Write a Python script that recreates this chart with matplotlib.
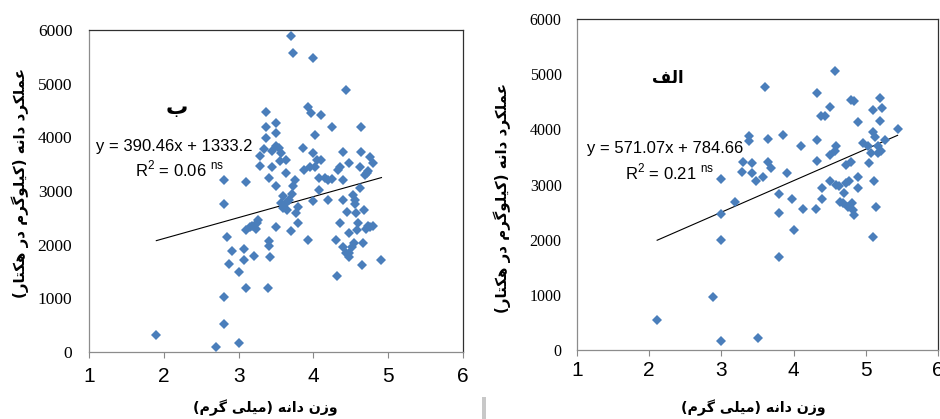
import numpy as np
import matplotlib
matplotlib.use('Agg')
import matplotlib.pyplot as plt
from matplotlib.patches import Rectangle

# ---- panel "ب" (left) : grain weight vs grain yield ----
x_b = [1.90, 2.70, 2.81, 2.81, 2.81, 2.81, 2.84, 2.87, 2.91, 3.00, 3.00, 3.07, 3.07,
       3.10, 3.10, 3.10, 3.20, 3.18, 3.24, 3.26, 3.29, 3.29, 3.37, 3.37, 3.37, 3.40,
       3.40, 3.40, 3.42, 3.39, 3.50, 3.50, 3.50, 3.50, 3.50, 3.54, 3.57, 3.60, 3.63,
       3.63, 3.64, 3.70, 3.73, 3.70, 3.73, 3.75, 3.77, 3.79, 3.86, 3.88, 3.93, 3.97,
       3.93, 3.99, 4.02, 3.99, 3.99, 4.02, 4.10, 4.10, 4.08, 4.19, 4.25, 4.25, 4.30,
       4.31, 4.35, 4.40, 4.44, 4.40, 4.40, 4.44, 4.48, 4.48, 4.54, 4.55, 4.62, 4.64,
       4.64, 4.65, 4.68, 4.71, 4.73, 4.75, 4.80, 4.91, 4.80, 4.66, 4.48, 4.53, 4.57,
       4.62, 4.35, 4.33, 3.57, 3.60, 3.65, 3.68, 4.39, 4.48, 4.52, 4.58, 4.05, 3.96,
       4.07, 3.34, 3.45, 3.55, 3.72, 3.80, 4.15, 4.20, 4.45, 4.56, 4.70, 4.75, 4.60,
       4.69, 4.73, 3.23, 3.15, 3.45]
y_b = [310, 100, 530, 1025, 2760, 3210, 2135, 1640, 1890, 170, 1490, 1910, 1710,
       3160, 1190, 2280, 1790, 2340, 2400, 2460, 3475, 3655, 4470, 4200, 3985, 3250,
       2065, 1980, 1775, 1190, 4260, 4075, 3830, 3085, 2320, 3800, 3705, 2900, 2775,
       3580, 3330, 5890, 5565, 2250, 3085, 3210, 2590, 2400, 3800, 3395, 4560, 4450,
       2080, 5485, 4045, 2805, 3705, 3455, 4420, 3580, 3025, 2835, 3220, 4200, 2090,
       1420, 2400, 3735, 4885, 3210, 2835, 1845, 3520, 2215, 2030, 2835, 3455, 4200,
       3735, 1625, 2650, 3330, 2340, 3640, 3520, 1720, 2340, 2030, 1845, 2930, 2590,
       3055, 3455, 3395, 2780, 2690, 2650, 2835, 1950, 1770, 1950, 2270, 3580, 3455,
       3250, 3780, 3740, 3560, 2950, 2700, 3250, 3200, 2600, 2750, 2300, 2330, 2400,
       3300, 3380, 2300, 2320, 3450]
slope_b, icpt_b, r2_b = 390.46, 1333.2, 0.06

# ---- panel "الف" (right) ----
x_a = [2.11, 2.89, 3.00, 3.00, 3.00, 3.00, 3.50, 3.19, 3.30, 3.28, 3.38, 3.38, 3.43,
       3.43, 3.48, 3.57, 3.60, 3.65, 3.65, 3.69, 3.80, 3.80, 3.80, 3.86, 3.91, 3.98,
       4.00, 4.10, 4.13, 4.31, 4.32, 4.32, 4.33, 4.38, 4.43, 4.50, 4.39, 4.39, 4.50,
       4.50, 4.57, 4.57, 4.59, 4.59, 4.63, 4.64, 4.68, 4.70, 4.72, 4.73, 4.75, 4.77,
       4.79, 4.80, 4.81, 4.82, 4.84, 4.84, 4.89, 4.89, 4.89, 4.96, 5.04, 5.07, 5.10,
       5.10, 5.11, 5.10, 5.14, 5.17, 5.19, 5.20, 5.21, 5.23, 5.26, 5.44, 5.13, 5.03,
       5.17]
y_a = [545, 955, 157, 1995, 2460, 3100, 210, 2675, 3415, 3235, 3780, 3885, 3205,
       3385, 3055, 3145, 4765, 3820, 3415, 3295, 2825, 2480, 1680, 3890, 3205, 2735,
       2180, 3690, 2550, 2550, 3800, 4655, 3425, 4245, 4235, 4405, 2935, 2735, 3055,
       3540, 5060, 3600, 3700, 2995, 2965, 2690, 2660, 2840, 3035, 3355, 2600, 3055,
       3400, 4525, 2660, 2530, 4505, 2450, 3145, 2935, 4125, 3760, 3385, 3570, 3960,
       4355, 3055, 2055, 2600, 3570, 4145, 4565, 3600, 4385, 3810, 4005, 3870, 3690,
       3690]
slope_a, icpt_a, r2_a = 571.07, 784.66, 0.21

ylabel_fa = 'عملکرد دانه (کیلوگرم در هکتار)'
xlabel_fa = 'وزن دانه (میلی گرم)'

# arabic presentation forms: isolated, final, initial, medial
forms = {
    'ا': ('\uFE8D', '\uFE8E', None, None),
    'ب': ('\uFE8F', '\uFE90', '\uFE91', '\uFE92'),
    'ت': ('\uFE95', '\uFE96', '\uFE97', '\uFE98'),
    'د': ('\uFEA9', '\uFEAA', None, None),
    'ر': ('\uFEAD', '\uFEAE', None, None),
    'ز': ('\uFEAF', '\uFEB0', None, None),
    'ع': ('\uFEC9', '\uFECA', '\uFECB', '\uFECC'),
    'ف': ('\uFED1', '\uFED2', '\uFED3', '\uFED4'),
    'ل': ('\uFEDD', '\uFEDE', '\uFEDF', '\uFEE0'),
    'م': ('\uFEE1', '\uFEE2', '\uFEE3', '\uFEE4'),
    'ن': ('\uFEE5', '\uFEE6', '\uFEE7', '\uFEE8'),
    'ه': ('\uFEE9', '\uFEEA', '\uFEEB', '\uFEEC'),
    'و': ('\uFEED', '\uFEEE', None, None),
    'ک': ('\uFB8E', '\uFB8F', '\uFB90', '\uFB91'),
    'گ': ('\uFB92', '\uFB93', '\uFB94', '\uFB95'),
    'ی': ('\uFBFC', '\uFBFD', '\uFBFE', '\uFBFF'),
}

def fa(s):
    out = []
    for i, c in enumerate(s):
        if c not in forms:
            out.append(c)
            continue
        iso, fin, ini, med = forms[c]
        prev = s[i-1] if i > 0 else ''
        nxt = s[i+1] if i < len(s)-1 else ''
        jp = prev in forms and forms[prev][2] is not None
        jn = ini is not None and nxt in forms
        if jp and jn:
            out.append(med)
        elif jp:
            out.append(fin)
        elif jn:
            out.append(ini)
        else:
            out.append(iso)
    return ''.join(reversed(out)).translate(str.maketrans('()', ')('))

plt.rcParams['mathtext.fontset'] = 'custom'
plt.rcParams['mathtext.rm'] = 'Liberation Sans'

blue = '#4a7ebb'
fig = plt.figure(figsize=(9.4, 4.19), dpi=100)
W, H = 940, 419

def make_ax(l, r, t, b):
    return fig.add_axes([l/W, 1-b/H, (r-l)/W, (b-t)/H])

def panel(ax, x, y, slope, icpt, r2, xfs, yfs, xpad, ypad):
    ax.plot(x, y, 'D', ms=5.3, mew=0, color=blue, zorder=3)
    xx = np.array([min(x), max(x)])
    ax.plot(xx, slope*xx+icpt, color='black', lw=0.8, zorder=2)
    ax.set_xlim(1, 6)
    ax.set_ylim(0, 6000)
    ax.set_xticks([1, 2, 3, 4, 5, 6])
    ax.set_yticks(range(0, 6001, 1000))
    ax.tick_params(axis='x', length=4, color='#888888', pad=xpad, labelsize=xfs)
    ax.tick_params(axis='y', length=0, pad=ypad, labelsize=yfs)
    for lab in ax.get_xticklabels():
        lab.set_family('Liberation Sans')
    for lab in ax.get_yticklabels():
        lab.set_family('Liberation Serif')
    for side in ['left', 'bottom']:
        ax.spines[side].set_color('#8c8c8c')
    for side in ['top', 'right']:
        ax.spines[side].set_color('#303030')
    for sp in ax.spines.values():
        sp.set_linewidth(0.9)

ax1 = make_ax(89, 463, 30, 352)
panel(ax1, x_b, y_b, slope_b, icpt_b, r2_b, 15, 12.5, 7, 12)
ax2 = make_ax(577, 938, 19, 350)
panel(ax2, x_a, y_a, slope_a, icpt_a, r2_a, 15, 11.5, 4, 11)

def eq_text(x0, y0, x1, y1, slope, icpt, r2):
    fig.text(x0/W, 1-y0/H, 'y = %.2fx + %s' % (slope, ('%.2f' % icpt).rstrip('0').rstrip('.')),
             family='Liberation Sans', fontsize=12, va='center', ha='left')
    fig.text(x1/W, 1-y1/H, 'R$^2$ = %.2f $^{\\mathrm{ns}}$' % r2,
             family='Liberation Sans', fontsize=12, va='center', ha='left')

eq_text(96, 146, 135, 169, slope_b, icpt_b, r2_b)
eq_text(587, 149, 625, 172, slope_a, icpt_a, r2_a)

lab = dict(family='DejaVu Sans', fontweight='bold', ha='center', va='center')
fig.text(177/W, 1-108/H, fa('ب'), fontsize=16, **lab)
fig.text(668/W, 1-78/H, fa('الف'), fontsize=12, **lab)
fig.text(20/W, 1-183/H, fa(ylabel_fa), rotation=90, fontsize=10.8, **lab)
fig.text(502/W, 1-198/H, fa(ylabel_fa), rotation=90, fontsize=10.8, **lab)
fig.text(265/W, 1-408/H, fa(xlabel_fa), fontsize=10.2, **lab)
fig.text(753/W, 1-408/H, fa(xlabel_fa), fontsize=10.2, **lab)

# small grey mark below the right chart
fig.patches.append(Rectangle((482/W, 0), 4/W, 22/H, transform=fig.transFigure,
                             color='#c8c8c8', lw=0))

fig.savefig('out.png', dpi=100)
